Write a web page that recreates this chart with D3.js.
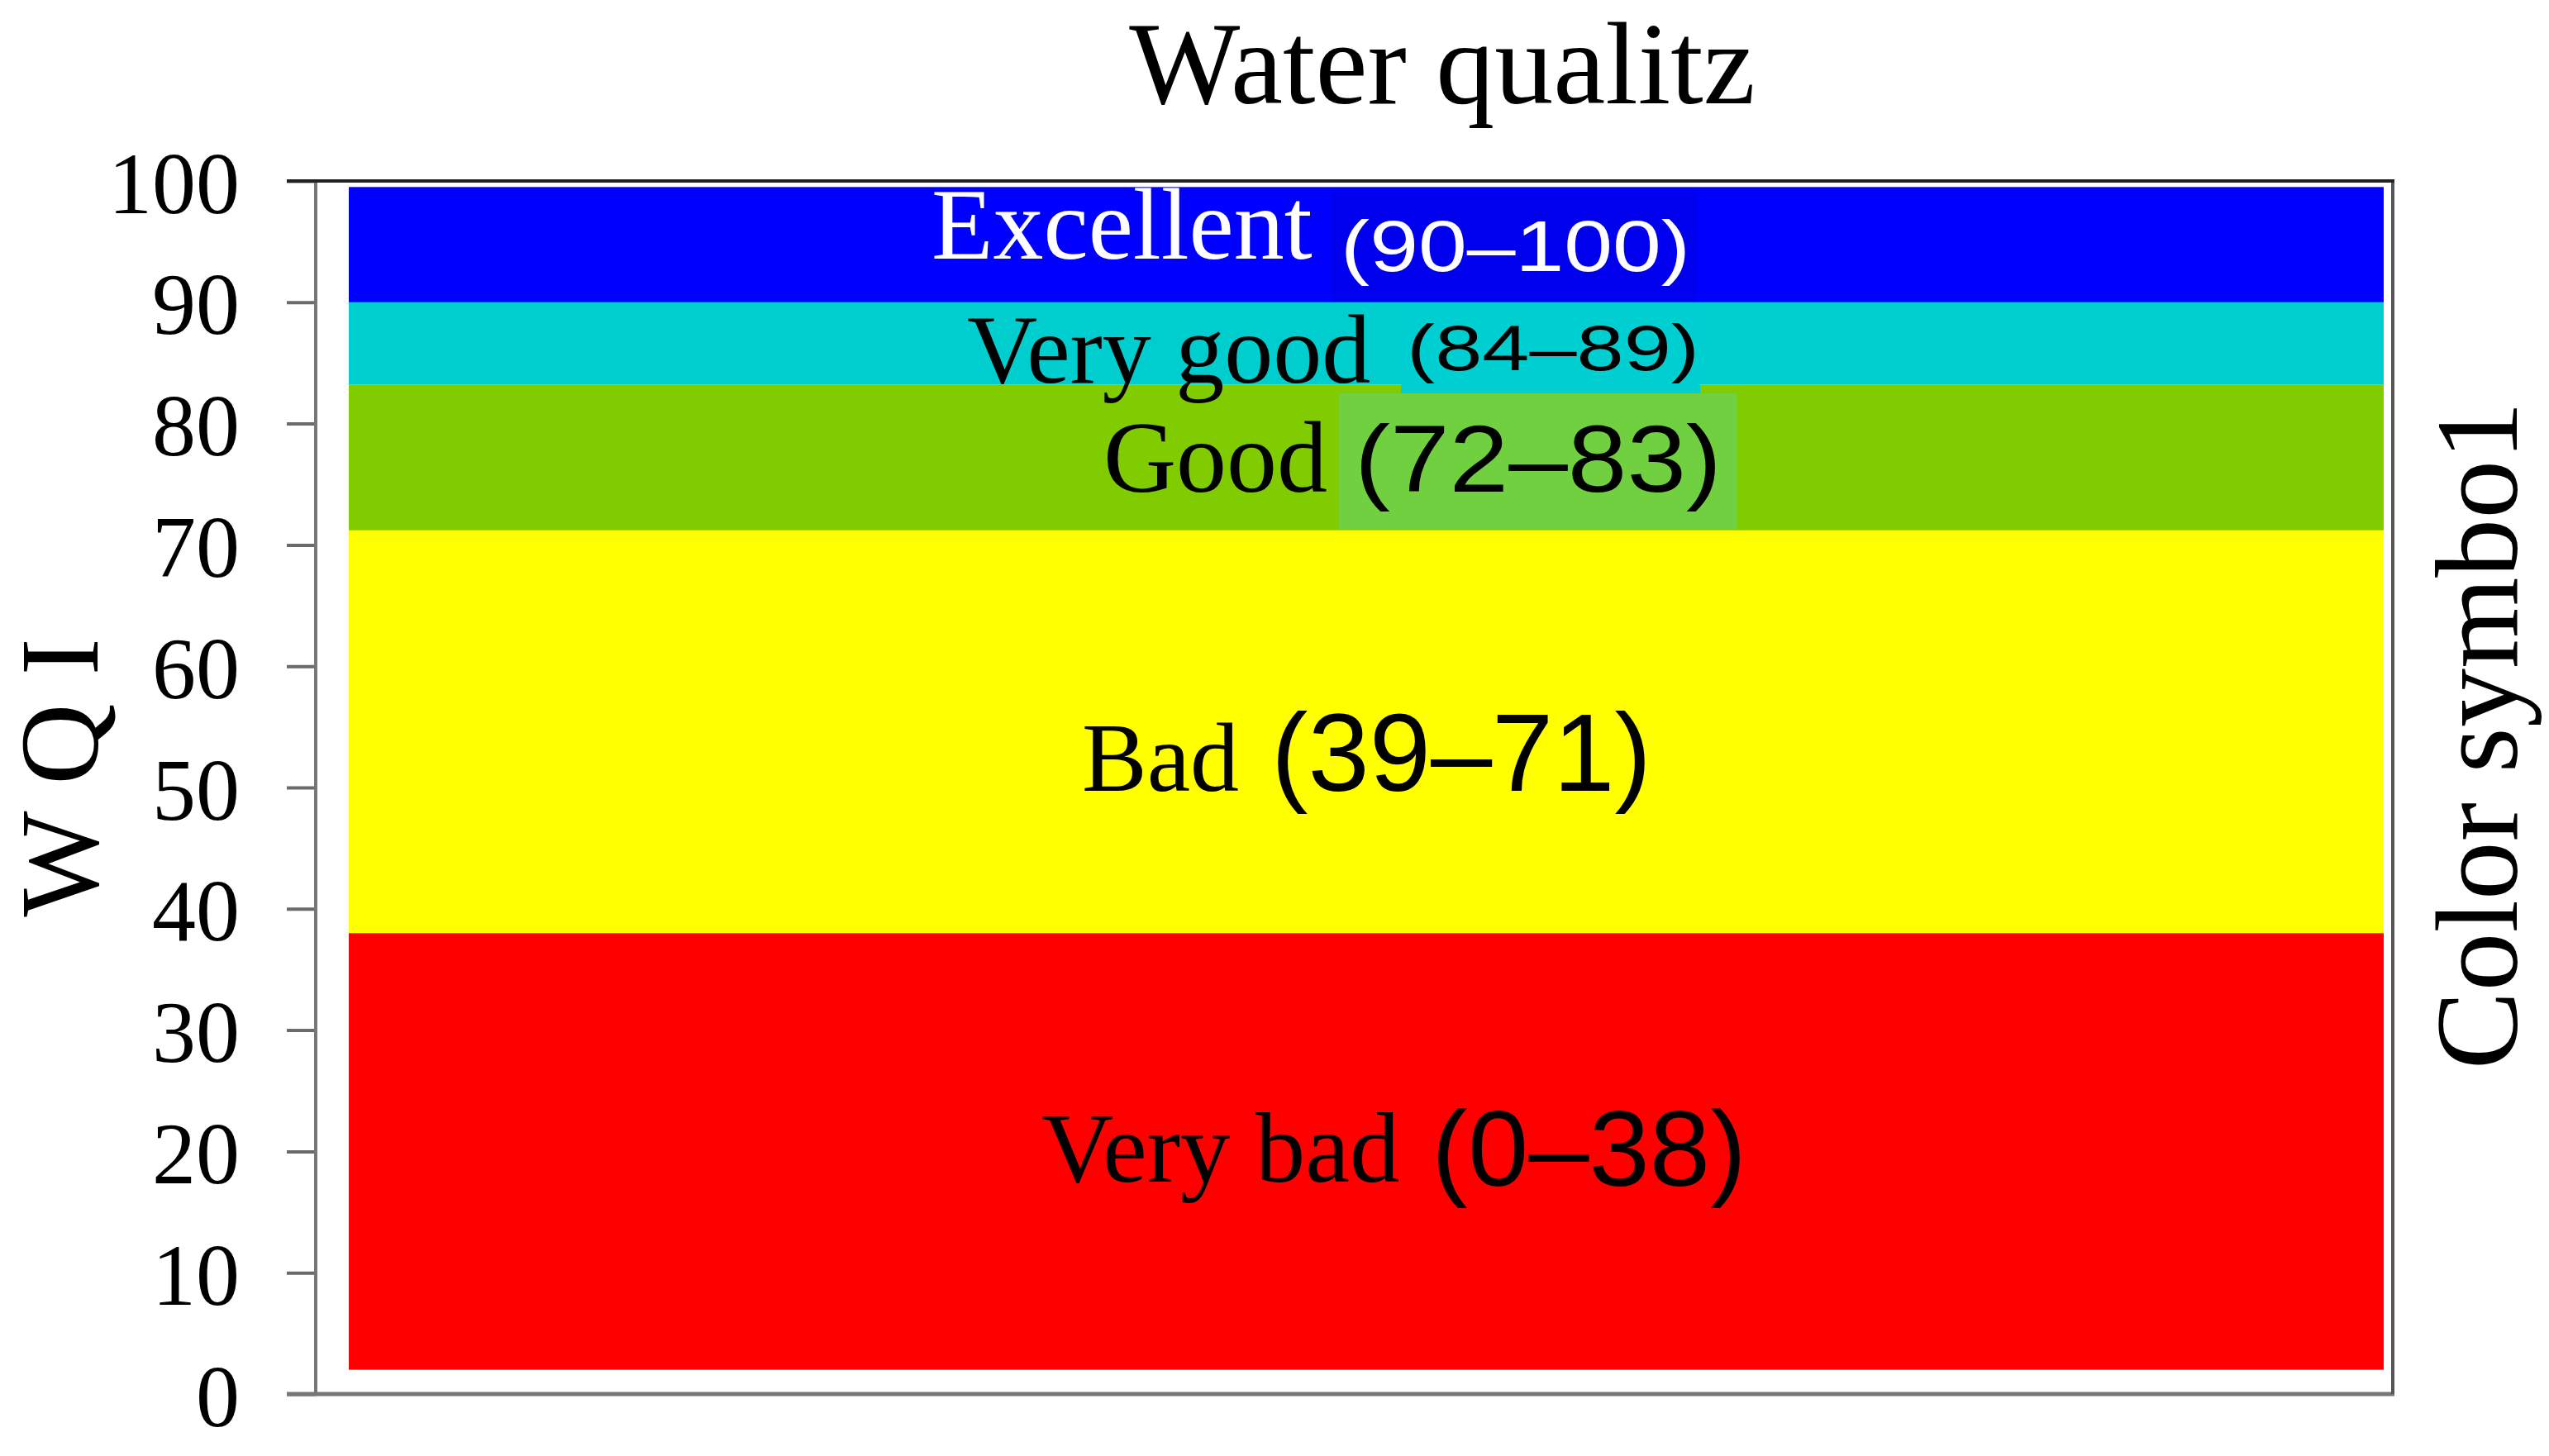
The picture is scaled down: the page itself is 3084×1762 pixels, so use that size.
<!DOCTYPE html>
<html>
<head>
<meta charset="utf-8">
<script src="https://cdn.jsdelivr.net/npm/d3@7"></script>
<style>
  html, body { margin: 0; padding: 0; background: #fff; }
  svg text { font-family: "Liberation Serif", "Times New Roman", serif; }
  .range { font-family: "Liberation Sans", Arial, sans-serif; }
</style>
</head>
<body>
<div id="chart"></div>
<script>
// Water quality classes (WQI bands), bottom to top
var classNames = ['Very bad', 'Bad', 'Good', 'Very good', 'Excellent'];
var classRanges = ['(0\u201338)', '(39\u201371)', '(72\u201383)', '(84\u201389)', '(90\u2013100)'];
var bandLow = [2, 38, 71.2, 83.2, 90];
var bandHigh = [38, 71.2, 83.2, 90, 99.5];
var bandColors = ['#ff0000', '#ffff00', '#80cc00', '#00cece', '#0000ff'];
var yTicks = [0, 10, 20, 30, 40, 50, 60, 70, 80, 90, 100];

// Label placement (x in px, baselines in WQI units)
var labelLayout = [
  { nameX: 1260, nameY: 17.5, nameSize: 121, rangeX: 1732, rangeY: 17.2, rangeSize: 130, rangeLen: 381, fill: '#000', box: null },
  { nameX: 1309, nameY: 49.7, nameSize: 118, rangeX: 1538, rangeY: 49.7, rangeSize: 133, rangeLen: 460, fill: '#000', box: null },
  { nameX: 1335, nameY: 74.4, nameSize: 122, rangeX: 1639, rangeY: 74.4, rangeSize: 115, rangeLen: 444, fill: '#000', box: { x0: 1620, x1: 2102, y0: 71.3, y1: 82.5, color: '#70d040' } },
  { nameX: 1170, nameY: 83.4, nameSize: 118, rangeX: 1702, rangeY: 84.4, rangeSize: 77, rangeLen: 354, fill: '#000', box: { x0: 1695, x1: 2057, y0: 82.5, y1: 89.9, color: '#00cfd2' } },
  { nameX: 1127, nameY: 93.6, nameSize: 122, rangeX: 1622, rangeY: 92.6, rangeSize: 88, rangeLen: 423, fill: '#fff', box: { x0: 1612, x1: 2052, y0: 90.1, y1: 99.1, color: '#0000ee' } }
];

var width = 3084, height = 1762;
var plot = { left: 382, right: 2895, top: 219, bottom: 1687 };
var barLeft = 422, barRight = 2884;

var svg = d3.select('#chart').append('svg')
  .attr('width', width)
  .attr('height', height);

var y = d3.scaleLinear().domain([0, 100]).range([plot.bottom, plot.top]);

// Bands
svg.append('g').selectAll('rect')
  .data(bandLow)
  .join('rect')
    .attr('x', barLeft)
    .attr('width', barRight - barLeft)
    .attr('y', (d, i) => y(bandHigh[i]))
    .attr('height', (d, i) => y(d) - y(bandHigh[i]))
    .attr('fill', (d, i) => bandColors[i]);

// Highlight boxes behind some of the ranges
var boxes = labelLayout.filter(d => d.box);
svg.append('g').selectAll('rect')
  .data(boxes)
  .join('rect')
    .attr('x', d => d.box.x0)
    .attr('width', d => d.box.x1 - d.box.x0)
    .attr('y', d => y(d.box.y1))
    .attr('height', d => y(d.box.y0) - y(d.box.y1))
    .attr('fill', d => d.box.color);

// Class labels
var labels = svg.append('g').selectAll('g')
  .data(classNames)
  .join('g');

labels.append('text')
  .attr('x', (d, i) => labelLayout[i].nameX)
  .attr('y', (d, i) => y(labelLayout[i].nameY))
  .attr('font-size', (d, i) => labelLayout[i].nameSize)
  .attr('fill', (d, i) => labelLayout[i].fill)
  .text(d => d);

labels.append('text')
  .attr('class', 'range')
  .attr('x', (d, i) => labelLayout[i].rangeX)
  .attr('y', (d, i) => y(labelLayout[i].rangeY))
  .attr('font-size', (d, i) => labelLayout[i].rangeSize)
  .attr('textLength', (d, i) => labelLayout[i].rangeLen)
  .attr('lengthAdjust', 'spacingAndGlyphs')
  .attr('fill', (d, i) => labelLayout[i].fill)
  .text((d, i) => classRanges[i]);

// Y axis
var yAxis = svg.append('g')
  .attr('transform', 'translate(' + plot.left + ',0)')
  .call(d3.axisLeft(y).tickValues(yTicks).tickSize(35).tickPadding(57).tickFormat(d3.format('d')));

yAxis.select('.domain').remove();
yAxis.selectAll('.tick line').attr('stroke', '#6a6a6a').attr('stroke-width', 4);
yAxis.selectAll('.tick text')
  .attr('font-family', '"Liberation Serif", "Times New Roman", serif')
  .attr('font-size', 106)
  .attr('fill', '#000')
  .attr('dy', '0.36em');

// Frame
var frame = svg.append('g').attr('fill', 'none');
frame.append('line').attr('x1', plot.left).attr('x2', plot.left).attr('y1', plot.top).attr('y2', plot.bottom)
  .attr('stroke', '#777').attr('stroke-width', 4);
frame.append('line').attr('x1', plot.left - 35).attr('x2', plot.right + 2).attr('y1', plot.bottom).attr('y2', plot.bottom)
  .attr('stroke', '#777').attr('stroke-width', 5);
frame.append('line').attr('x1', plot.right).attr('x2', plot.right).attr('y1', plot.top).attr('y2', plot.bottom)
  .attr('stroke', '#555').attr('stroke-width', 4);
frame.append('line').attr('x1', plot.left - 35).attr('x2', plot.right + 2).attr('y1', plot.top).attr('y2', plot.top)
  .attr('stroke', '#222').attr('stroke-width', 4);

// Title
svg.append('text')
  .attr('x', 1745)
  .attr('y', 125)
  .attr('text-anchor', 'middle')
  .attr('font-size', 142)
  .attr('fill', '#000')
  .text('Water qualitz');

// Axis titles
svg.append('text')
  .attr('transform', 'translate(118,941) rotate(-90)')
  .attr('text-anchor', 'middle')
  .attr('font-size', 136)
  .attr('fill', '#000')
  .text('W Q I');

svg.append('text')
  .attr('transform', 'translate(3045,890) rotate(-90)')
  .attr('text-anchor', 'middle')
  .attr('font-size', 142)
  .attr('fill', '#000')
  .text('Color symbo1');
</script>
</body>
</html>
